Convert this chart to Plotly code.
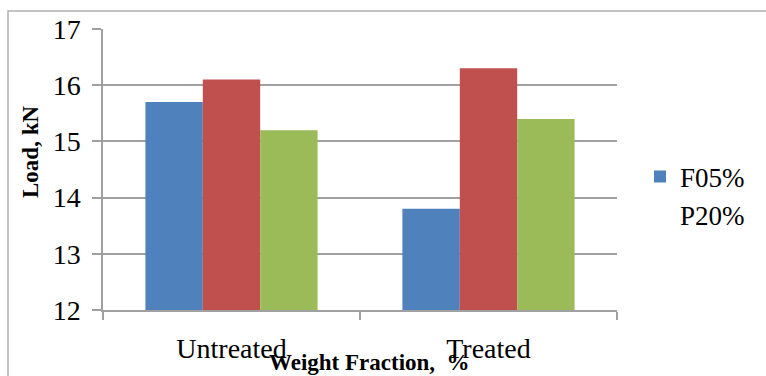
import plotly.graph_objects as go

categories = ["Untreated", "Treated"]
series_names = ["F05%", "P20%", "Series3"]
f05_values = [15.7, 13.8]
p20_values = [16.1, 16.3]
s3_values = [15.2, 15.4]
y_ticks = [12, 13, 14, 15, 16, 17]

colors = ["#4F81BD", "#C0504D", "#9BBB59"]
FONT = "Liberation Serif, Times New Roman, serif"
GRID = "#a0a0a0"

W, H = 766, 376
L, R, T, B = 103, 149, 29, 66
PW, PH = W - L - R, H - T - B


def px(xp):  # page x -> paper
    return (xp - L) / PW


def py(yp):  # page y -> paper
    return (H - B - yp) / PH


fig = go.Figure()
fig.add_trace(go.Bar(x=categories, y=f05_values, name=series_names[0],
                     marker=dict(color=colors[0], line=dict(width=0))))
fig.add_trace(go.Bar(x=categories, y=p20_values, name=series_names[1],
                     marker=dict(color=colors[1], line=dict(width=0)), showlegend=False))
fig.add_trace(go.Bar(x=categories, y=s3_values, name=series_names[2],
                     marker=dict(color=colors[2], line=dict(width=0)), showlegend=False))
# legend-only entry with no visible swatch
fig.add_trace(go.Scatter(x=[None], y=[None], mode="markers", name=series_names[1],
                         marker=dict(color="rgba(0,0,0,0)", size=1)))

fig.update_layout(
    width=W, height=H,
    margin=dict(l=L, r=R, t=T, b=B, autoexpand=False),
    paper_bgcolor="white", plot_bgcolor="white",
    barmode="group", bargap=0.33, bargroupgap=0,
    font=dict(family=FONT, color="black", size=28),
    showlegend=True,
    legend=dict(x=px(640), y=py(196), xanchor="left", yanchor="middle",
                font=dict(family=FONT, size=27, color="black"),
                bgcolor="rgba(0,0,0,0)", tracegroupgap=0, itemwidth=30),
)
fig.update_xaxes(
    showgrid=False, showline=True, linecolor=GRID, linewidth=1.5,
    ticks="outside", tickson="boundaries", ticklen=8, tickcolor=GRID, tickwidth=1.5,
    tickfont=dict(family=FONT, size=28, color="black"), ticklabelstandoff=13,
    automargin=False,
)
fig.update_yaxes(
    range=[12, 17], tickvals=y_ticks, showgrid=True, gridcolor=GRID, gridwidth=1.5,
    showline=True, linecolor=GRID, linewidth=1.5, zeroline=False,
    ticks="outside", ticklen=9, tickcolor=GRID, tickwidth=1.5,
    tickfont=dict(family=FONT, size=28, color="black"), ticklabelstandoff=6,
    automargin=False,
)
# axis titles
fig.add_annotation(text="<b>Weight Fraction,  %</b>", xref="paper", yref="paper",
                   x=px(369), y=py(348), xanchor="center", yanchor="top",
                   showarrow=False, font=dict(family=FONT, size=23, color="black"))
fig.add_annotation(text="<b>Load, kN</b>", xref="paper", yref="paper",
                   x=px(30), y=py(152), xanchor="center", yanchor="middle",
                   textangle=-90, showarrow=False, font=dict(family=FONT, size=23, color="black"))
# outer chart border
fig.add_shape(type="rect", xref="paper", yref="paper",
              x0=px(8), x1=px(790), y0=py(400), y1=py(11),
              line=dict(color="#b0b0b0", width=1.5), fillcolor="rgba(0,0,0,0)", layer="below")

fig.write_html(
    "out.html",
    config={"displayModeBar": False},
    post_script="document.body.style.margin='0';document.body.style.overflow='hidden';",
)
